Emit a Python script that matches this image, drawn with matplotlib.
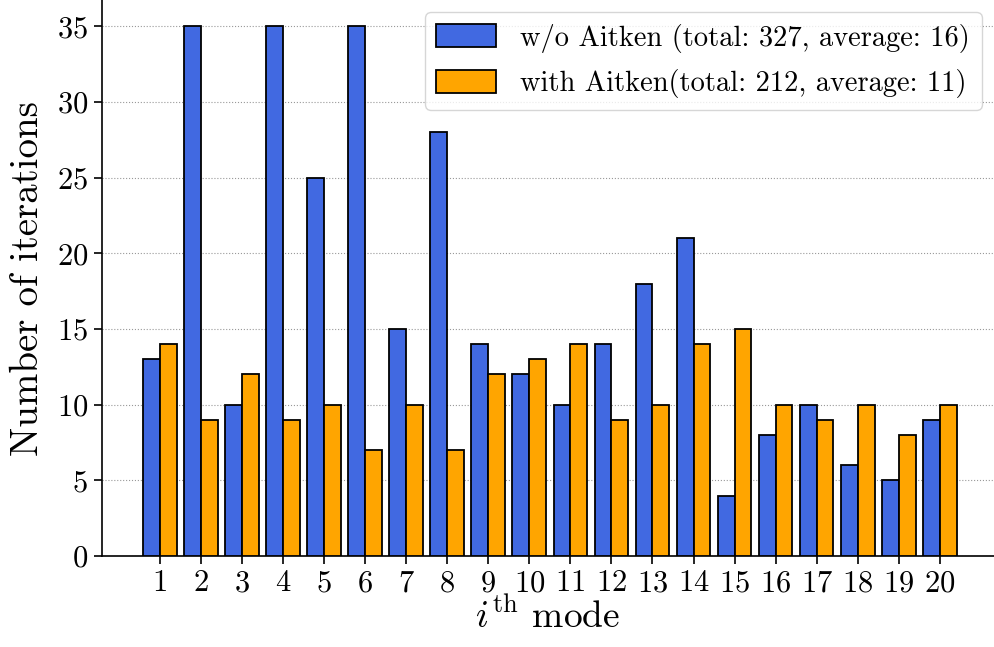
import matplotlib
matplotlib.use("Agg")
import matplotlib.pyplot as plt
import numpy as np

plt.rcParams['font.family'] = 'serif'
plt.rcParams['font.serif'] = ['cmr10']
plt.rcParams['mathtext.fontset'] = 'cm'
plt.rcParams['axes.formatter.use_mathtext'] = True

# Data
modes = list(range(1, 21))
without_aitken = [13, 35, 10, 35, 25, 35, 15, 28, 14, 12, 10, 14, 18, 21, 4, 8, 10, 6, 5, 9]
with_aitken = [14, 9, 12, 9, 10, 7, 10, 7, 12, 13, 14, 9, 10, 14, 15, 10, 9, 10, 8, 10]
label_without = 'w/o Aitken (total: 327, average: 16)'
label_with = 'with Aitken(total: 212, average: 11)'

fig = plt.figure(figsize=(9.94, 6.47), dpi=100)
ax = fig.add_axes([0.1026, 0.1406, 0.8974, 0.8594])

x = np.array(modes)
w = 0.41
ax.bar(x - w/2, without_aitken, w, color='#4169E1', edgecolor='black', linewidth=1.3,
       label=label_without, zorder=3)
ax.bar(x + w/2, with_aitken, w, color='#FFA500', edgecolor='black', linewidth=1.3,
       label=label_with, zorder=3)

ax.set_xlim(-0.41, 21.32)
ax.set_ylim(0, 36.75)
ax.set_xticks(x)
ax.set_yticks(range(0, 36, 5))
ax.tick_params(labelsize=22, length=6, width=1.2, pad=4)
ax.yaxis.grid(True, linestyle=':', color='#999999', linewidth=0.8, zorder=0)
ax.spines['top'].set_visible(False)
ax.spines['right'].set_visible(False)
for s in ['left', 'bottom']:
    ax.spines[s].set_linewidth(1.2)

ax.set_xlabel(r'$i^{\mathrm{th}}$ mode', fontsize=27, labelpad=0)
ax.set_ylabel('Number of iterations', fontsize=28, labelpad=8)

ax.legend(loc='upper right', fontsize=20.5, bbox_to_anchor=(0.986, 0.978),
          handlelength=2.1, handleheight=0.85, borderpad=0.4, handletextpad=0.85,
          labelspacing=0.58, borderaxespad=0)

fig.savefig('out.png', dpi=100)
